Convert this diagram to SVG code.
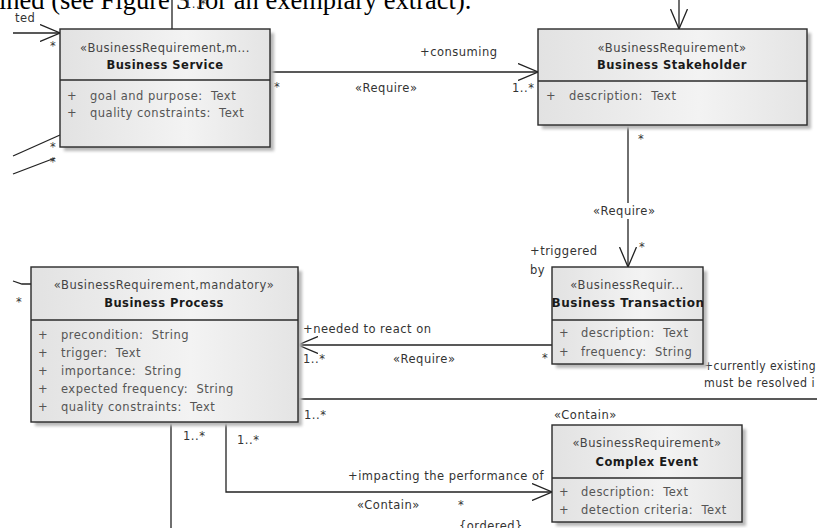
<svg xmlns="http://www.w3.org/2000/svg" width="817" height="528" viewBox="0 0 817 528">
<defs>
<linearGradient id="g" x1="0" y1="0" x2="1" y2="0">
<stop offset="0" stop-color="#e2e2e2"/>
<stop offset="0.6" stop-color="#f3f3f3"/>
<stop offset="1" stop-color="#e4e4e4"/>
</linearGradient>
<filter id="blur" x="-5%" y="-5%" width="115%" height="115%"><feGaussianBlur stdDeviation="1.4"/></filter>
<marker id="open" viewBox="0 0 20 18" refX="20" refY="9" markerWidth="20" markerHeight="18" orient="auto" markerUnits="userSpaceOnUse">
<path d="M0,0.5 L20,9 L0,17.5" fill="none" stroke="#222" stroke-width="1.3"/>
</marker>
<clipPath id="btclip"><rect x="552" y="267" width="151" height="97"/></clipPath>
</defs>
<style>
.box{fill:url(#g);stroke:#2a2a2a;stroke-width:1.4}
.sh{fill:#b8b8b8;filter:url(#blur)}
.div{stroke:#2a2a2a;stroke-width:1.4}
text{font-family:"DejaVu Sans",Verdana,sans-serif;font-size:11.5px;letter-spacing:0.5px}
.st{fill:#444;text-anchor:middle}
.nm{fill:#1a1a1a;font-weight:bold;text-anchor:middle}
.at{fill:#555}
.lb{fill:#333}
.cn{fill:none;stroke:#222;stroke-width:1.3}
.ttl{font-family:"Liberation Serif","Times New Roman",serif;font-size:26.5px;letter-spacing:0;fill:#000}
</style>
<rect width="817" height="528" fill="#fff"/>
<text class="ttl" x="-1" y="9">ined (see Figure 3 for an exemplary extract).</text>

<g id="connectors">
<line class="cn" x1="172" y1="0" x2="172" y2="29"/>
<line class="cn" x1="13" y1="33" x2="60" y2="33" marker-end="url(#open)"/>
<line class="cn" x1="13" y1="156" x2="60" y2="135"/>
<line class="cn" x1="13" y1="174" x2="55" y2="158"/>
<line class="cn" x1="270" y1="72" x2="538" y2="72" marker-end="url(#open)"/>
<line class="cn" x1="679" y1="0" x2="679" y2="29" marker-end="url(#open)"/>
<line class="cn" x1="628" y1="125" x2="628" y2="267" marker-end="url(#open)"/>
<line class="cn" x1="552" y1="345" x2="298" y2="345" marker-end="url(#open)"/>
<line class="cn" x1="298" y1="399" x2="817" y2="399"/>
<polyline class="cn" points="13,281 22,284 31,284"/>
<line class="cn" x1="171" y1="422" x2="171" y2="528"/>
<polyline class="cn" points="226,422 226,492 552,492" marker-end="url(#open)"/>
<rect x="590" y="203" width="76" height="16" fill="#fff"/>
<text class="lb" x="15" y="22">ted</text>
<text class="lb" x="50" y="50">*</text>
<text class="lb" x="50" y="151">*</text>
<text class="lb" x="50" y="166">*</text>
<text class="lb" x="184" y="8">1..*</text>
<text class="lb" x="420" y="56">+consuming</text>
<text class="lb" x="355" y="92">«Require»</text>
<text class="lb" x="274" y="91">*</text>
<text class="lb" x="512" y="92">1..*</text>
<text class="lb" x="638" y="143">*</text>
<text class="lb" x="593" y="215">«Require»</text>
<text class="lb" x="639" y="251">*</text>
<text class="lb" x="530" y="255">+triggered</text>
<text class="lb" x="530" y="274">by</text>
<text class="lb" x="303" y="333">+needed to react on</text>
<text class="lb" x="303" y="363">1..*</text>
<text class="lb" x="393" y="363">«Require»</text>
<text class="lb" x="542" y="362">*</text>
<text class="lb" x="704" y="370" textLength="112" lengthAdjust="spacingAndGlyphs">+currently existing</text>
<text class="lb" x="704" y="387" textLength="111" lengthAdjust="spacingAndGlyphs">must be resolved i</text>
<text class="lb" x="304" y="419">1..*</text>
<text class="lb" x="554" y="419">«Contain»</text>
<text class="lb" x="16" y="306">*</text>
<text class="lb" x="183" y="440">1..*</text>
<text class="lb" x="237" y="444">1..*</text>
<text class="lb" x="348" y="480">+impacting the performance of</text>
<text class="lb" x="357" y="509">«Contain»</text>
<text class="lb" x="458" y="509">*</text>
<text class="lb" x="459" y="530">{ordered}</text>
</g>

<g id="business-service">
<rect class="sh" x="64" y="33" width="210" height="118"/>
<rect class="box" x="60" y="29" width="210" height="118"/>
<line class="div" x1="60" y1="80" x2="270" y2="80"/>
<text class="st" x="165" y="52">«BusinessRequirement,m...</text>
<text class="nm" x="165" y="69">Business Service</text>
<text class="at" x="67" y="100">+</text>
<text class="at" x="90" y="100">goal and purpose:&#160; Text</text>
<text class="at" x="67" y="117">+</text>
<text class="at" x="90" y="117">quality constraints:&#160; Text</text>
</g>

<g id="business-stakeholder">
<rect class="sh" x="542" y="33" width="269" height="96"/>
<rect class="box" x="538" y="29" width="269" height="96"/>
<line class="div" x1="538" y1="81" x2="807" y2="81"/>
<text class="st" x="672" y="52">«BusinessRequirement»</text>
<text class="nm" x="672" y="69">Business Stakeholder</text>
<text class="at" x="546" y="100">+</text>
<text class="at" x="569" y="100">description:&#160; Text</text>
</g>

<g id="business-transaction">
<rect class="sh" x="556" y="271" width="151" height="97"/>
<rect class="box" x="552" y="267" width="151" height="97"/>
<line class="div" x1="552" y1="320" x2="703" y2="320"/>
<text class="st" x="627" y="289">«BusinessRequir...</text>
<g clip-path="url(#btclip)">
<text class="nm" x="628" y="307" textLength="153" lengthAdjust="spacingAndGlyphs">Business Transaction</text>
</g>
<text class="at" x="559" y="337">+</text>
<text class="at" x="581" y="337">description:&#160; Text</text>
<text class="at" x="559" y="356">+</text>
<text class="at" x="581" y="356">frequency:&#160; String</text>
</g>

<g id="business-process">
<rect class="sh" x="35" y="271" width="267" height="155"/>
<rect class="box" x="31" y="267" width="267" height="155"/>
<line class="div" x1="31" y1="320" x2="298" y2="320"/>
<text class="st" x="164" y="289">«BusinessRequirement,mandatory»</text>
<text class="nm" x="164" y="307">Business Process</text>
<text class="at" x="38" y="339">+</text>
<text class="at" x="61" y="339">precondition:&#160; String</text>
<text class="at" x="38" y="357">+</text>
<text class="at" x="61" y="357">trigger:&#160; Text</text>
<text class="at" x="38" y="375">+</text>
<text class="at" x="61" y="375">importance:&#160; String</text>
<text class="at" x="38" y="393">+</text>
<text class="at" x="61" y="393">expected frequency:&#160; String</text>
<text class="at" x="38" y="411">+</text>
<text class="at" x="61" y="411">quality constraints:&#160; Text</text>
</g>

<g id="complex-event">
<rect class="sh" x="556" y="429" width="190" height="97"/>
<rect class="box" x="552" y="425" width="190" height="97"/>
<line class="div" x1="552" y1="478" x2="742" y2="478"/>
<text class="st" x="647" y="447">«BusinessRequirement»</text>
<text class="nm" x="647" y="466">Complex Event</text>
<text class="at" x="559" y="496">+</text>
<text class="at" x="581" y="496">description:&#160; Text</text>
<text class="at" x="559" y="514">+</text>
<text class="at" x="581" y="514">detection criteria:&#160; Text</text>
</g>
</svg>
